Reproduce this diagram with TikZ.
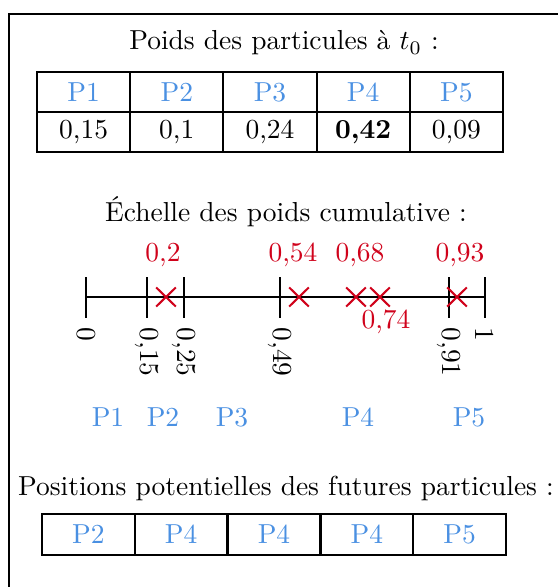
\documentclass[tikz,border=0pt]{standalone}
\usetikzlibrary{shapes.misc}
\definecolor{pblue}{RGB}{74,144,226}
\definecolor{xred}{RGB}{208,2,27}
\begin{document}
\begin{tikzpicture}[x=0.364pt,y=-0.364pt,
  frame/.style={line width=0.75pt},
  cell/.style={draw, line width=0.75pt, minimum width=33.9pt, minimum height=14.6pt, inner sep=0pt},
  pl/.style={text=pblue},
  redlab/.style={text=xred},
  ticklab/.style={rotate=-90, anchor=west},
  crossmark/.style={cross out, draw=xred, line width=0.75pt, minimum width=6.4pt, minimum height=6.2pt, inner sep=0pt},
  axisline/.style={line width=0.75pt}]
\useasboundingbox (0,0) rectangle (558,587);
\begin{scope}
\clip (0,0) rectangle (558,587);
\draw[frame] (9,14) rectangle (580,610);
\end{scope}
% title
\node (title) at (284,43) {Poids des particules à $t_0$ :};
% table 1
\foreach \i/\x in {1/83.6,2/176.8,3/270,4/363.2,5/456.4}{
  \node[cell,pl] (h\i) at (\x,92) {P\i};
}
\node[cell] (v1) at (83.6,132) {0,15};
\node[cell] (v2) at (176.8,132) {0,1};
\node[cell] (v3) at (270,132) {0,24};
\node[cell] (v4) at (363.2,132) {\textbf{0,42}};
\node[cell] (v5) at (456.4,132) {0,09};
% scale
\node (echelle) at (286,212) {Échelle des poids cumulative :};
\coordinate (a0) at (86,297);
\coordinate (a1) at (485,297);
\draw[axisline] (a0) -- (a1);
\foreach \n/\x/\lab in {t0/86/0,t1/147/{0,15},t2/184/{0,25},t3/280/{0,49},t4/449/{0,91},t5/485/1}{
  \coordinate (\n top) at (\x,277);
  \coordinate (\n bot) at (\x,318);
  \draw[axisline] (\n top) -- (\n bot);
  \node[ticklab] (\n lab) at (\n bot) {\lab};
}
% crosses
\node[crossmark] (c1) at (166,297) {};
\node[crossmark] (c2) at (299,297) {};
\node[crossmark] (c3) at (356,297) {};
\node[crossmark] (c4) at (380,297) {};
\node[crossmark] (c5) at (457,297) {};
\node[redlab] (r1) at (163,255) {0,2};
\node[redlab] (r2) at (293,255) {0,54};
\node[redlab] (r3) at (360,255) {0,68};
\node[redlab] (r5) at (460,255) {0,93};
\node[redlab] (r4) at (386,322) {0,74};
% interval labels
\node[pl] (p1) at (108,417) {P1};
\node[pl] (p2) at (163,417) {P2};
\node[pl] (p3) at (232,417) {P3};
\node[pl] (p4) at (358,417) {P4};
\node[pl] (p5) at (469,417) {P5};
% positions
\node (pos) at (286,488) {Positions potentielles des futures particules :};
\node[cell,pl,minimum height=15pt] (f1) at (88.4,534.5) {P2};
\node[cell,pl,minimum height=15pt] (f2) at (181.2,534.5) {P4};
\node[cell,pl,minimum height=15pt] (f3) at (274,534.5) {P4};
\node[cell,pl,minimum height=15pt] (f4) at (366.8,534.5) {P4};
\node[cell,pl,minimum height=15pt] (f5) at (459.6,534.5) {P5};
\end{tikzpicture}
\end{document}
